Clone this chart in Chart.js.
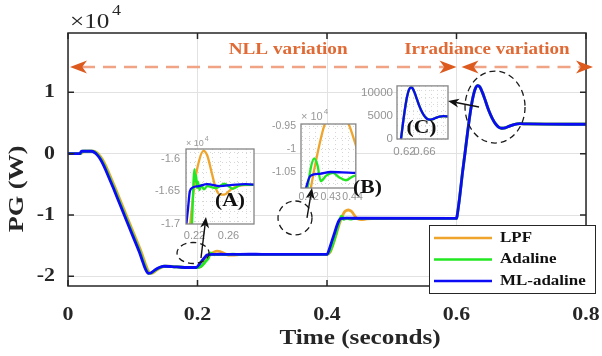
<!DOCTYPE html>
<html>
<head>
<meta charset="utf-8">
<title>PG response</title>
<script src="https://cdn.jsdelivr.net/npm/chart.js@4.4.1/dist/chart.umd.min.js"></script>
<style>
  html, body { margin: 0; padding: 0; background: #fff; }
  #figure { position: relative; width: 602px; height: 356px; overflow: hidden; }
  #figure canvas { position: absolute; }
</style>
</head>
<body>
<div id="figure">
  <canvas id="pgChart" width="602" height="356" style="left:0;top:0"></canvas>
  <canvas id="zoomA" width="112" height="110" style="left:146px;top:134px"></canvas>
  <canvas id="zoomB" width="100" height="100" style="left:266px;top:108px"></canvas>
  <canvas id="zoomC" width="97" height="90" style="left:355px;top:75px"></canvas>
  <canvas id="notes" width="602" height="356" style="left:0;top:0"></canvas>
</div>
<script>
// generated power PG (W) against time (s) for the three estimators
const tLPF = [0, 0.02, 0.024, 0.039, 0.044, 0.048, 0.053, 0.058, 0.063, 0.073,
  0.083, 0.093, 0.103, 0.113, 0.119, 0.123, 0.127, 0.131, 0.136, 0.143,
  0.151, 0.162, 0.18, 0.2, 0.205, 0.21, 0.215, 0.22, 0.225, 0.2305,
  0.235, 0.24, 0.245, 0.25, 0.255, 0.262, 0.27, 0.29, 0.4, 0.405,
  0.41, 0.415, 0.418, 0.421, 0.424, 0.4273, 0.43, 0.433, 0.436, 0.4383,
  0.4412, 0.444, 0.448, 0.453, 0.46, 0.47, 0.6, 0.601, 0.605, 0.609,
  0.613, 0.617, 0.621, 0.625, 0.629, 0.633, 0.636, 0.64, 0.645, 0.65,
  0.655, 0.66, 0.665, 0.67, 0.675, 0.682, 0.69, 0.698, 0.71, 0.8];
const pLPF = [0, 0, 400, 400, 200, -200, -900, -1900, -3100, -5600,
  -8200, -10800, -13400, -16000, -17800, -18900, -19450, -19450, -19050, -18600,
  -18350, -18400, -18550, -18550, -18450, -17800, -17000, -16400, -16050, -15880,
  -15950, -16200, -16450, -16550, -16550, -16480, -16420, -16400, -16400, -16050,
  -14600, -12900, -11800, -10850, -10100, -9460, -9250, -9180, -9300, -9460,
  -9870, -10300, -10650, -10750, -10650, -10570, -10550, -10100, -7000, -3300,
  0, 3400, 6500, 9000, 10600, 11100, 10900, 10000, 8500, 7000,
  5800, 4900, 4350, 4150, 4200, 4500, 4800, 4900, 4850, 4800];

const tAdaline = [0, 0.019, 0.022, 0.037, 0.042, 0.046, 0.051, 0.056, 0.061, 0.071,
  0.081, 0.091, 0.101, 0.111, 0.117, 0.121, 0.125, 0.129, 0.134, 0.141,
  0.149, 0.161, 0.18, 0.2, 0.205, 0.21, 0.214, 0.217, 0.219, 0.22,
  0.221, 0.222, 0.223, 0.224, 0.226, 0.228, 0.231, 0.235, 0.245, 0.255,
  0.265, 0.275, 0.29, 0.4, 0.405, 0.41, 0.415, 0.4195, 0.421, 0.4225,
  0.424, 0.4255, 0.428, 0.431, 0.434, 0.437, 0.44, 0.445, 0.6, 0.601,
  0.605, 0.609, 0.613, 0.617, 0.621, 0.625, 0.629, 0.633, 0.636, 0.64,
  0.645, 0.65, 0.655, 0.66, 0.665, 0.67, 0.675, 0.682, 0.69, 0.698,
  0.71, 0.8];
const pAdaline = [0, 0, 400, 400, 200, -200, -900, -1900, -3100, -5600,
  -8200, -10800, -13400, -16000, -17800, -18900, -19500, -19450, -19050, -18600,
  -18350, -18400, -18550, -18550, -18400, -17900, -17400, -17000, -16300, -16160,
  -16350, -16250, -16450, -16350, -16480, -16400, -16470, -16420, -16450, -16380,
  -16460, -16400, -16400, -16400, -15800, -14400, -12600, -10850, -10400, -10200,
  -10350, -10700, -10580, -10520, -10620, -10680, -10600, -10550, -10550, -10100,
  -7000, -3300, 0, 3400, 6500, 9000, 10600, 11100, 10900, 10000,
  8500, 7000, 5800, 4900, 4350, 4150, 4200, 4500, 4800, 4900,
  4850, 4800];

const tML = [0, 0.018, 0.021, 0.036, 0.041, 0.045, 0.05, 0.055, 0.06, 0.07,
  0.08, 0.09, 0.1, 0.11, 0.116, 0.12, 0.124, 0.128, 0.133, 0.14,
  0.148, 0.16, 0.18, 0.198, 0.203, 0.208, 0.2125, 0.2145, 0.218, 0.225,
  0.235, 0.25, 0.265, 0.28, 0.3, 0.4, 0.404, 0.408, 0.412, 0.416,
  0.4188, 0.4208, 0.425, 0.43, 0.44, 0.6, 0.601, 0.605, 0.609, 0.613,
  0.617, 0.621, 0.625, 0.629, 0.633, 0.636, 0.64, 0.645, 0.65, 0.655,
  0.66, 0.665, 0.67, 0.675, 0.682, 0.69, 0.698, 0.71, 0.8];
const pML = [0, 0, 400, 400, 200, -200, -900, -1900, -3100, -5600,
  -8200, -10800, -13400, -16000, -17800, -18900, -19500, -19450, -19050, -18600,
  -18350, -18400, -18550, -18550, -18000, -17300, -16750, -16500, -16440, -16420,
  -16390, -16420, -16400, -16390, -16400, -16400, -15400, -14100, -12800, -11500,
  -10850, -10580, -10540, -10500, -10520, -10550, -10100, -7000, -3300, 0,
  3400, 6500, 9000, 10600, 11100, 10900, 10000, 8500, 7000, 5800,
  4900, 4350, 4150, 4200, 4500, 4800, 4900, 4850, 4800];

const xTicks = [0, 0.2, 0.4, 0.6, 0.8];
const yTicks = [-20000, -10000, 0, 10000];

// tick marks of the three zoom windows
const zoomATicksX = [0.22, 0.26];
const zoomATicksY = [-16000, -16500, -17000];
const zoomBTicksX = [0.42, 0.43, 0.44];
const zoomBTicksY = [-9500, -10000, -10500];
const zoomCTicksX = [0.62, 0.66];
const zoomCTicksY = [0, 5000, 10000];

const SERIF = '"Liberation Serif", "Times New Roman", serif';
const SANS = '"Liberation Sans", Arial, sans-serif';
const INK = '#262626';
const NOTE = '#E06A35';

const series = [
  { label: 'LPF', t: tLPF, p: pLPF, color: '#EFA52C', order: 2 },
  { label: 'Adaline', t: tAdaline, p: pAdaline, color: '#22E822', order: 1 },
  { label: 'ML-adaline', t: tML, p: pML, color: '#0B0BF5', order: 0 }
];

function buildDatasets(width) {
  return series.map(s => ({
    label: s.label,
    data: s.t.map((t, i) => ({ x: t, y: s.p[i] })),
    borderColor: s.color,
    borderWidth: width,
    pointRadius: 0,
    cubicInterpolationMode: 'monotone',
    order: s.order
  }));
}

// MATLAB text renders a little wider than Liberation, so stretch along the baseline
function wideText(ctx, text, x, y, font, color, align, sx, angle) {
  ctx.save();
  ctx.font = font;
  ctx.fillStyle = color;
  ctx.textAlign = align;
  ctx.textBaseline = 'middle';
  ctx.translate(x, y);
  if (angle) ctx.rotate(angle);
  ctx.scale(sx, 1);
  ctx.fillText(text, 0, 0);
  ctx.restore();
}

function arrowHead(ctx, x, y, angle, len, wid, color) {
  ctx.save();
  ctx.translate(x, y);
  ctx.rotate(angle);
  ctx.beginPath();
  ctx.moveTo(0, 0);
  ctx.lineTo(-len, -wid / 2);
  ctx.lineTo(-len * 0.72, 0);
  ctx.lineTo(-len, wid / 2);
  ctx.closePath();
  ctx.fillStyle = color;
  ctx.fill();
  ctx.restore();
}

function dashedSpan(ctx, x0, x1, y) {
  ctx.save();
  ctx.strokeStyle = '#F0A385';
  ctx.lineWidth = 2.5;
  ctx.setLineDash([13, 8]);
  ctx.beginPath();
  ctx.moveTo(x0 + 12, y);
  ctx.lineTo(x1 - 12, y);
  ctx.stroke();
  ctx.restore();
  arrowHead(ctx, x0, y, Math.PI, 17, 13, '#DC5A1E');
  arrowHead(ctx, x1, y, 0, 17, 13, '#DC5A1E');
}

function pointer(ctx, x0, y0, x1, y1) {
  const ang = Math.atan2(y1 - y0, x1 - x0);
  ctx.save();
  ctx.strokeStyle = '#111';
  ctx.lineWidth = 1.4;
  ctx.beginPath();
  ctx.moveTo(x0, y0);
  ctx.lineTo(x1 - Math.cos(ang) * 8, y1 - Math.sin(ang) * 8);
  ctx.stroke();
  ctx.restore();
  arrowHead(ctx, x1, y1, ang, 11, 9, '#111');
}

// circles around the transients, pointers to the zoom windows and their tags
function drawNotes(chart) {
  const ctx = document.getElementById('notes').getContext('2d');
  const { x, y } = chart.scales;
  const at = (t, p) => [x.getPixelForValue(t), y.getPixelForValue(p)];
  ctx.clearRect(0, 0, ctx.canvas.width, ctx.canvas.height);

  ctx.save();
  ctx.strokeStyle = '#1a1a1a';
  ctx.lineWidth = 1.3;
  ctx.setLineDash([6, 4]);
  [[0.1931, -16190, 16, 10.5], [0.3506, -10480, 17, 17], [0.6595, 7610, 30, 36]].forEach(([t, p, rx, ry]) => {
    const [cx, cy] = at(t, p);
    ctx.beginPath();
    ctx.ellipse(cx, cy, rx, ry, 0, 0, Math.PI * 2);
    ctx.stroke();
  });
  ctx.restore();

  [[0.2054, -17010, 0.2131, -10320], [0.3691, -10480, 0.3768, -5590], [0.6348, 7610, 0.5869, 8590]]
    .forEach(([t0, p0, t1, p1]) => {
      const [x0, y0] = at(t0, p0);
      const [x1, y1] = at(t1, p1);
      pointer(ctx, x0, y0, x1, y1);
    });

  [['(A)', 0.2502, -7710], ['(B)', 0.4625, -5590], ['(C)', 0.546, 4190]].forEach(([txt, t, p]) => {
    const [tx, ty] = at(t, p);
    wideText(ctx, txt, tx, ty, 'bold 18px ' + SERIF, '#111', 'center', 1.2);
  });
}

const pgFrame = {
  id: 'pgFrame',
  beforeDraw(chart) {
    const { ctx, width, height } = chart;
    ctx.save();
    ctx.fillStyle = '#fff';
    ctx.fillRect(0, 0, width, height);
    ctx.restore();
  },
  afterDraw(chart) {
    const { ctx, chartArea: a, scales: { x, y } } = chart;
    ctx.save();

    // box with inward ticks on all four sides
    ctx.strokeStyle = INK;
    ctx.lineWidth = 1.5;
    ctx.strokeRect(a.left, a.top, a.right - a.left, a.bottom - a.top);
    ctx.beginPath();
    x.ticks.forEach(t => {
      const px = x.getPixelForValue(t.value);
      ctx.moveTo(px, a.bottom); ctx.lineTo(px, a.bottom - 6);
      ctx.moveTo(px, a.top); ctx.lineTo(px, a.top + 6);
    });
    y.ticks.forEach(t => {
      const py = y.getPixelForValue(t.value);
      ctx.moveTo(a.left, py); ctx.lineTo(a.left + 6, py);
      ctx.moveTo(a.right, py); ctx.lineTo(a.right - 6, py);
    });
    ctx.stroke();

    // tick labels
    const tickFont = 'bold 19px ' + SERIF;
    x.ticks.forEach(t => wideText(ctx, String(t.value), x.getPixelForValue(t.value), a.bottom + 29, tickFont, INK, 'center', 1.15));
    y.ticks.forEach(t => wideText(ctx, String(t.value / 1e4), a.left - 13, y.getPixelForValue(t.value), tickFont, INK, 'right', 1.15));

    // exponent
    wideText(ctx, '\u00d710', a.left + 2, 22.5, '21px ' + SERIF, INK, 'left', 1.2);
    wideText(ctx, '4', a.left + 44, 11.5, '15px ' + SERIF, INK, 'left', 1.2);

    // axis titles
    wideText(ctx, 'Time (seconds)', 360, 339, 'bold 21px ' + SERIF, INK, 'center', 1.2);
    wideText(ctx, 'PG (W)', 18, 189, 'bold 21px ' + SERIF, INK, 'center', 1.25, -Math.PI / 2);

    // operating-condition spans
    const spanY = y.getPixelForValue(14150);
    const step = x.getPixelForValue(0.6);
    dashedSpan(ctx, a.left + 2, step, spanY);
    dashedSpan(ctx, step + 5, a.right + 7, spanY);
    wideText(ctx, 'NLL variation', x.getPixelForValue(0.34), spanY - 17, 'bold 17px ' + SERIF, NOTE, 'center', 1.13);
    wideText(ctx, 'Irradiance variation', x.getPixelForValue(0.647), spanY - 17, 'bold 17px ' + SERIF, NOTE, 'center', 1.12);

    // legend
    const lx = a.right - 157, ly = a.bottom - 61;
    ctx.fillStyle = '#fff';
    ctx.fillRect(lx, ly, 166, 68);
    ctx.strokeStyle = INK;
    ctx.lineWidth = 1;
    ctx.strokeRect(lx + 0.5, ly + 0.5, 166, 68);
    chart.data.datasets.forEach((ds, i) => {
      const ry = ly + 13 + i * 21.5;
      ctx.strokeStyle = ds.borderColor;
      ctx.lineWidth = 2.6;
      ctx.beginPath();
      ctx.moveTo(lx + 5, ry);
      ctx.lineTo(lx + 63, ry);
      ctx.stroke();
      wideText(ctx, ds.label, lx + 71, ry, 'bold 15px ' + SERIF, '#111', 'left', 1.13);
    });

    ctx.restore();
    drawNotes(chart);
  }
};

new Chart(document.getElementById('pgChart'), {
  type: 'line',
  data: { datasets: buildDatasets(2.8) },
  options: {
    animation: false,
    responsive: false,
    events: [],
    layout: { padding: { top: 33, right: 16, bottom: 0, left: 0 } },
    plugins: { legend: { display: false }, tooltip: { enabled: false } },
    scales: {
      x: {
        type: 'linear', min: 0, max: 0.8,
        afterBuildTicks: s => { s.ticks = xTicks.map(v => ({ value: v })); },
        afterFit: s => { s.height = 70; },
        grid: { color: '#e2e2e2', lineWidth: 1, drawTicks: false },
        border: { display: false },
        ticks: { display: false }
      },
      y: {
        type: 'linear', min: -21570, max: 19680,
        afterBuildTicks: s => { s.ticks = yTicks.map(v => ({ value: v })); },
        afterFit: s => { s.width = 68; },
        grid: { color: '#e2e2e2', lineWidth: 1, drawTicks: false },
        border: { display: false },
        ticks: { display: false }
      }
    }
  },
  plugins: [pgFrame]
});

// zoom windows: white area, dotted minor grid, grey box, optional exponent
const zoomFrame = {
  id: 'zoomFrame',
  beforeDatasetsDraw(chart, args, opts) {
    const { ctx, chartArea: a, scales: { x, y } } = chart;
    ctx.save();
    ctx.fillStyle = '#fff';
    ctx.fillRect(a.left, a.top, a.right - a.left, a.bottom - a.top);
    ctx.strokeStyle = '#d6d6d6';
    ctx.lineWidth = 1;
    ctx.setLineDash([1, 3]);
    ctx.beginPath();
    for (let k = Math.ceil(x.min / opts.xStep); k * opts.xStep < x.max; k++) {
      const px = Math.round(x.getPixelForValue(k * opts.xStep)) + 0.5;
      ctx.moveTo(px, a.top); ctx.lineTo(px, a.bottom);
    }
    for (let k = Math.ceil(y.min / opts.yStep); k * opts.yStep < y.max; k++) {
      const py = Math.round(y.getPixelForValue(k * opts.yStep)) + 0.5;
      ctx.moveTo(a.left, py); ctx.lineTo(a.right, py);
    }
    ctx.stroke();
    ctx.restore();
  },
  afterDraw(chart, args, opts) {
    const { ctx, chartArea: a } = chart;
    ctx.save();
    ctx.strokeStyle = '#858585';
    ctx.lineWidth = 1.3;
    ctx.strokeRect(a.left, a.top, a.right - a.left, a.bottom - a.top);
    ctx.restore();
    if (opts.exp) {
      const f = opts.exp;
      wideText(ctx, '\u00d7 10', a.left, a.top - f * 0.6, f + 'px ' + SANS, '#9a9a9a', 'left', 1);
      ctx.save();
      ctx.font = f + 'px ' + SANS;
      const w = ctx.measureText('\u00d7 10').width;
      ctx.restore();
      wideText(ctx, '4', a.left + w + 1, a.top - f * 1.1, Math.round(f * 0.75) + 'px ' + SANS, '#9a9a9a', 'left', 1);
    }
  }
};

function makeZoom(id, cfg) {
  const tickFont = { family: SANS, size: cfg.font };
  return new Chart(document.getElementById(id), {
    type: 'line',
    data: { datasets: buildDatasets(2.3) },
    options: {
      animation: false,
      responsive: false,
      events: [],
      layout: { padding: { top: cfg.top, right: cfg.right, bottom: 0, left: 0 } },
      plugins: {
        legend: { display: false },
        tooltip: { enabled: false },
        zoomFrame: { xStep: cfg.xStep, yStep: cfg.yStep, exp: cfg.exp }
      },
      scales: {
        x: {
          type: 'linear', min: cfg.x[0], max: cfg.x[1],
          afterBuildTicks: s => { s.ticks = cfg.xTicks.map(v => ({ value: v })); },
          afterFit: s => { s.height = cfg.bottom; },
          grid: { display: false, drawTicks: false },
          border: { display: false },
          ticks: { font: tickFont, color: '#949494', padding: cfg.xPad, maxRotation: 0, autoSkip: false,
            callback: v => String(v) }
        },
        y: {
          type: 'linear', min: cfg.y[0], max: cfg.y[1],
          afterBuildTicks: s => { s.ticks = cfg.yTicks.map(v => ({ value: v })); },
          afterFit: s => { s.width = cfg.left; },
          grid: { display: false, drawTicks: false },
          border: { display: false },
          ticks: { font: tickFont, color: '#949494', padding: cfg.yPad, autoSkip: false,
            callback: v => String(v / cfg.yScale) }
        }
      }
    },
    plugins: [zoomFrame]
  });
}

makeZoom('zoomA', {
  x: [0.21, 0.29], y: [-17000, -15850], xTicks: zoomATicksX, yTicks: zoomATicksY, yScale: 1e4,
  top: 15, right: 4, left: 40, bottom: 20, xPad: 5, yPad: 6, font: 11,
  xStep: 0.01, yStep: 150, exp: 9
});
makeZoom('zoomB', {
  x: [0.4165, 0.4415], y: [-10850, -9450], xTicks: zoomBTicksX, yTicks: zoomBTicksY, yScale: 1e4,
  top: 16, right: 4, left: 35, bottom: 20, xPad: 3, yPad: 5, font: 10.5,
  xStep: 0.003, yStep: 250, exp: 11
});
makeZoom('zoomC', {
  x: [0.605, 0.707], y: [0, 11400], xTicks: zoomCTicksX, yTicks: zoomCTicksY, yScale: 1,
  top: 8, right: 4, left: 42, bottom: 26, xPad: 6, yPad: 4, font: 11.5,
  xStep: 0.012, yStep: 1500, exp: 0
});
</script>
</body>
</html>
